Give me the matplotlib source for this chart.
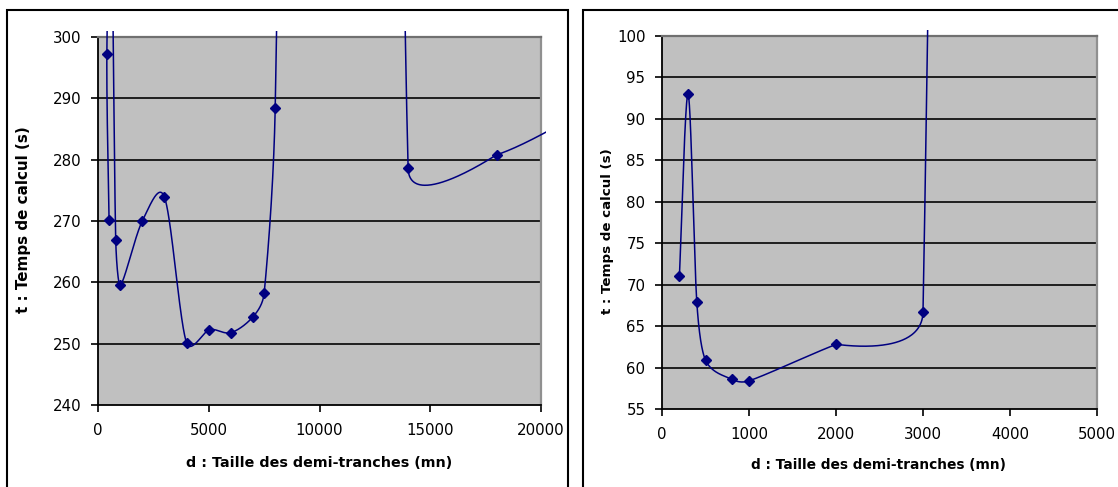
import numpy as np
import matplotlib
matplotlib.use("Agg")
import matplotlib.pyplot as plt
from matplotlib.patches import Rectangle

# ---- data ----
left_d = [500, 400, 600, 800, 1000, 2000, 3000, 4000, 5000, 6000, 7000, 7500, 8000, 12000, 14000, 18000, 22000]
left_t = [270.1, 297.2, 320.0, 266.9, 259.5, 270.0, 273.9, 250.1, 252.3, 251.8, 254.4, 258.2, 288.5, 1130.0, 278.6, 280.8, 288.0]

right_d = [200, 300, 400, 500, 800, 1000, 2000, 3000, 4000]
right_t = [71.0, 93.0, 67.9, 60.9, 58.6, 58.4, 62.8, 66.7, 1200.0]

left_xticks = [0, 5000, 10000, 15000, 20000]
left_yticks = [240, 250, 260, 270, 280, 290, 300]
right_xticks = [0, 1000, 2000, 3000, 4000, 5000]
right_yticks = [55, 60, 65, 70, 75, 80, 85, 90, 95, 100]

xlabel = "d : Taille des demi-tranches (mn)"
ylabel = "t : Temps de calcul (s)"

plt.rcParams['font.family'] = ['DejaVu Sans']

W_PX, H_PX = 1118, 487
fig = plt.figure(figsize=(W_PX / 100, H_PX / 100), dpi=100)

NAVY = '#000080'


def excel_smooth(xs, ys, xlim, ylim, wpx, hpx, n=100):
    xs = np.asarray(xs, float)
    ys = np.asarray(ys, float)
    sx = wpx / (xlim[1] - xlim[0])
    sy = hpx / (ylim[1] - ylim[0])
    P = np.column_stack([(xs - xlim[0]) * sx, (ys - ylim[0]) * sy])
    m = len(P)
    out = []
    t = np.linspace(0, 1, n)[:, None]
    for i in range(m - 1):
        P0 = P[i - 1] if i > 0 else P[i]
        P1 = P[i]
        P2 = P[i + 1]
        P3 = P[i + 2] if i + 2 < m else P[i + 1]
        d02 = np.hypot(*(P2 - P0))
        d12 = np.hypot(*(P2 - P1))
        d13 = np.hypot(*(P3 - P1))
        c02 = d02 / 6 >= d12 / 2
        c13 = d13 / 6 >= d12 / 2
        if not c02 and not c13:
            f1 = f2 = 1 / 6
        elif c02 and c13:
            f1 = d12 / 2 / d02
            f2 = d12 / 2 / d13
        elif c02:
            f1 = f2 = d12 / 2 / d02
        else:
            f1 = f2 = d12 / 2 / d13
        C1 = P1 + f1 * (P2 - P0)
        C2 = P2 - f2 * (P3 - P1)
        B = ((1 - t) ** 3) * P1 + 3 * ((1 - t) ** 2) * t * C1 + 3 * (1 - t) * t ** 2 * C2 + t ** 3 * P2
        out.append(B if i == 0 else B[1:])
    B = np.vstack(out)
    return B[:, 0] / sx + xlim[0], B[:, 1] / sy + ylim[0]


def make_panel(rect_px, xs, ys, xlim, ylim, xticks, yticks):
    l, t, r, b = rect_px
    ax = fig.add_axes([l / W_PX, 1 - b / H_PX, (r - l) / W_PX, (b - t) / H_PX])
    ax.set_facecolor('#C0C0C0')
    ax.set_xlim(*xlim)
    ax.set_ylim(*ylim)
    ax.set_xticks(xticks)
    ax.set_yticks(yticks)
    ax.set_xticklabels([str(v) for v in xticks])
    ax.set_yticklabels([str(v) for v in yticks])
    for yv in yticks[1:-1]:
        ax.axhline(yv, color='#111111', lw=1.3, zorder=1)
    ax.spines['left'].set_color('black')
    ax.spines['bottom'].set_color('black')
    ax.spines['left'].set_linewidth(1.3)
    ax.spines['bottom'].set_linewidth(1.3)
    ax.spines['top'].set_color('#707070')
    ax.spines['right'].set_color('#909090')
    ax.spines['top'].set_linewidth(1.6)
    ax.spines['right'].set_linewidth(1.6)
    ax.tick_params(axis='both', direction='out', length=5, width=1.2, colors='black',
                   labelsize=10.8)
    ax.tick_params(axis='x', pad=8)
    ax.tick_params(axis='y', pad=7)
    wpx, hpx = r - l, b - t
    sx, sy = excel_smooth(xs, ys, xlim, ylim, wpx, hpx)
    clip = Rectangle((-5 / wpx, -5 / hpx), 1 + 10 / wpx, 1 + 11 / hpx,
                     transform=ax.transAxes, visible=False)
    ax.add_patch(clip)
    ln, = ax.plot(sx, sy, color=NAVY, lw=1.1, zorder=3, solid_capstyle='butt')
    ln.set_clip_path(clip)
    mk, = ax.plot(xs, ys, linestyle='none', marker='D', ms=5.2, color=NAVY, zorder=4)
    mk.set_clip_path(clip)
    return ax


axL = make_panel((98, 37, 541, 405), left_d, left_t, (0, 20000), (240, 300),
                 left_xticks, left_yticks)
axR = make_panel((662, 36, 1097, 409), right_d, right_t, (0, 5000), (55, 100),
                 right_xticks, right_yticks)

# axis titles
fig.text(319 / W_PX, 1 - 463 / H_PX, xlabel, ha='center', va='center',
         fontsize=10.3, fontweight='bold')
fig.text(878 / W_PX, 1 - 465 / H_PX, xlabel, ha='center', va='center',
         fontsize=9.9, fontweight='bold')
fig.text(24 / W_PX, 1 - 220 / H_PX, ylabel, ha='center', va='center',
         rotation=90, fontsize=10.9, fontweight='bold')
fig.text(608 / W_PX, 1 - 231 / H_PX, ylabel, ha='center', va='center',
         rotation=90, fontsize=9.6, fontweight='bold')

# chart area borders
fig.add_artist(Rectangle((7 / W_PX, -0.1), (568 - 7) / W_PX, (487 - 10) / H_PX + 0.1,
                         transform=fig.transFigure, fill=False, ec='black', lw=1.5))
fig.add_artist(Rectangle((583 / W_PX, -0.1), 0.5, (487 - 10) / H_PX + 0.1,
                         transform=fig.transFigure, fill=False, ec='black', lw=1.5))

fig.savefig('out.png', dpi=100)
